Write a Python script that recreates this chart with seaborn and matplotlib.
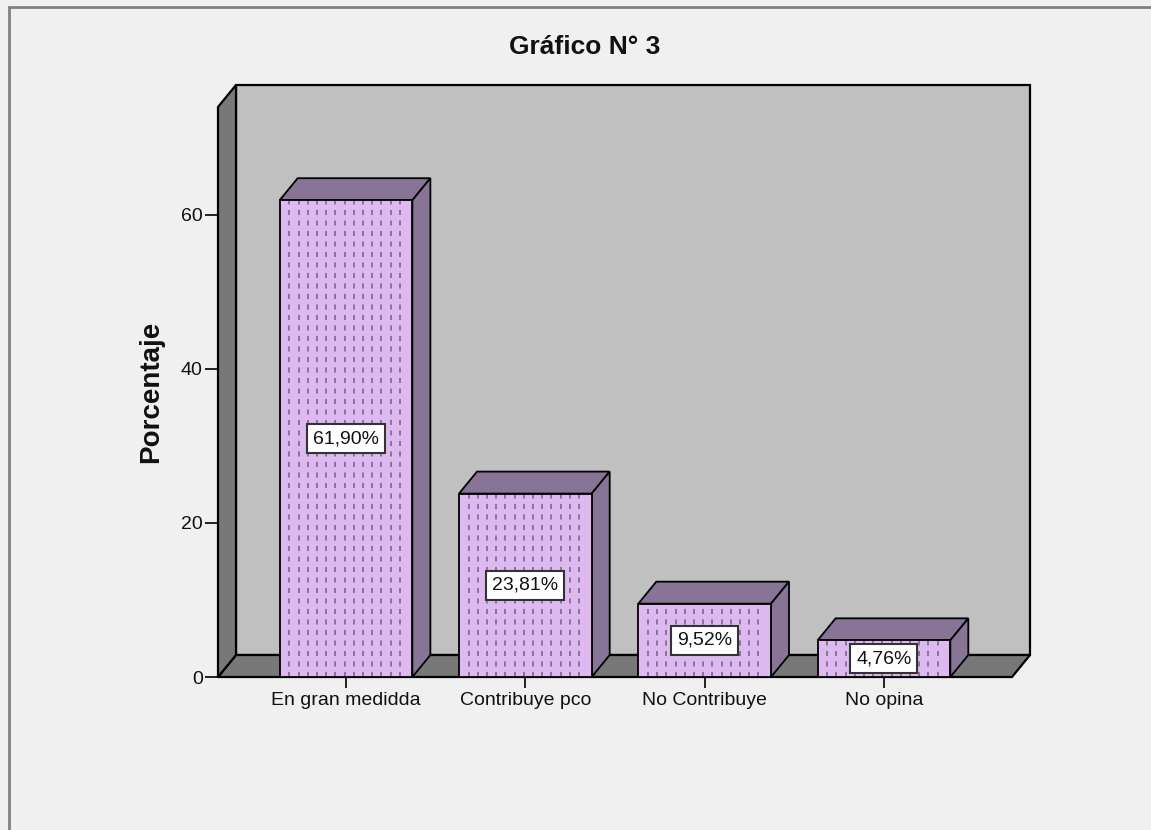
import matplotlib
matplotlib.use("Agg")
import matplotlib.pyplot as plt
from matplotlib.patches import Polygon, Rectangle
import seaborn as sns

# datos del gráfico
categorias = ["En gran medidda", "Contribuye pco", "No Contribuye", "No opina"]
porcentajes = [61.90, 23.81, 9.52, 4.76]
etiquetas = ["61,90%", "23,81%", "9,52%", "4,76%"]
marcas_y = [0, 20, 40, 60]

# colores (estilo SPSS)
fondo = "#f0f0f0"
pared = "#c0c0c0"
suelo = "#787878"
frente = "#deb9f0"
lado = "#887496"
puntos = "#85769a"

sns.set_style("white")
plt.rcParams["font.family"] = ["Liberation Sans", "DejaVu Sans"]

W, H = 1151, 830
fig = plt.figure(figsize=(W / 100, H / 100), dpi=100, facecolor=fondo)
ax = fig.add_axes([218 / W, 1 - 677 / H, (1012 - 218) / W, (677 - 107) / H])
ax.set_facecolor("none")

sns.barplot(x=categorias, y=porcentajes, width=0.74, color=frente, saturation=1,
            edgecolor="black", linewidth=1.3, ax=ax, zorder=3)
barras = list(ax.patches)

x0, x1 = -0.714, 3.714
y0, y1 = 0, 74
ax.set_xlim(x0, x1)
ax.set_ylim(y0, y1)

# profundidad 3D en unidades de datos (18 px a la derecha, 22 px hacia arriba)
dx = 18 * (x1 - x0) / (1012 - 218)
dy = 22 * (y1 - y0) / (677 - 107)

# pared del fondo, suelo y pared izquierda
ax.add_patch(Rectangle((x0 + dx, y0 + dy), x1 - x0, y1 - y0, facecolor=pared,
                       edgecolor="black", linewidth=1.6, clip_on=False, zorder=0.5))
ax.add_patch(Polygon([(x0, y0), (x1, y0), (x1 + dx, y0 + dy), (x0 + dx, y0 + dy)],
                     closed=True, facecolor=suelo, edgecolor="black", linewidth=1.6,
                     clip_on=False, zorder=0.6))
ax.add_patch(Polygon([(x0, y0), (x0, y1), (x0 + dx, y1 + dy), (x0 + dx, y0 + dy)],
                     closed=True, facecolor=suelo, edgecolor="black", linewidth=1.6,
                     clip_on=False, zorder=0.6))

paso = 9.2 * (x1 - x0) / (1012 - 218)
for b, txt in zip(barras, etiquetas):
    bx, bw, bh = b.get_x(), b.get_width(), b.get_height()
    # patrón de puntos verticales
    xs = []
    xp = bx + paso * 1.05
    while xp < bx + bw - paso * 0.4:
        xs.append(xp)
        xp += paso
    ax.vlines(xs, 0, bh, colors=puntos, linewidth=1.4, linestyles=(0, (2.6, 2.8)), zorder=3.2)
    b.set_zorder(3.3)
    b.set_facecolor("none")
    ax.add_patch(Rectangle((bx, 0), bw, bh, facecolor=frente, edgecolor="none", zorder=3.1))
    # tapa y lateral
    ax.add_patch(Polygon([(bx, bh), (bx + dx, bh + dy), (bx + bw + dx, bh + dy), (bx + bw, bh)],
                         closed=True, facecolor=lado, edgecolor="black", linewidth=1.3,
                         clip_on=False, zorder=3))
    ax.add_patch(Polygon([(bx + bw, 0), (bx + bw, bh), (bx + bw + dx, bh + dy), (bx + bw + dx, dy)],
                         closed=True, facecolor=lado, edgecolor="black", linewidth=1.3,
                         clip_on=False, zorder=3))
    ax.text(bx + bw / 2, bh / 2, txt, ha="center", va="center", fontsize=14, color="#111111",
            zorder=5, bbox=dict(boxstyle="square,pad=0.3", facecolor="white",
                                edgecolor="#333333", linewidth=1.5))

for s in ax.spines.values():
    s.set_visible(False)

ax.set_yticks(marcas_y)
ax.tick_params(axis="y", length=9.5, width=1.4, pad=1.5, labelsize=14, color="#222222",
               labelcolor="#111111", left=True)
ax.tick_params(axis="x", length=8, width=1.4, pad=2.5, labelsize=14, color="#222222",
               labelcolor="#111111", bottom=True)

ax.set_ylabel("Porcentaje", fontsize=20, fontweight="bold", color="#111111")
ax.yaxis.label.set_va("center")
ax.yaxis.set_label_coords((151 - 218) / (1012 - 218), 0.5)
ax.set_xlabel("")

fig.text(585 / W, 1 - 47 / H, "Gráfico N° 3", ha="center", va="center",
         fontsize=19, fontweight="bold", color="#111111")

# marco exterior
fig.add_artist(Rectangle((9 / W, -0.1), 1.2, 1.1 - 7 / H, transform=fig.transFigure,
                         facecolor="none", edgecolor="#808080", linewidth=2))

fig.savefig("out.png", dpi=100, facecolor=fondo)
